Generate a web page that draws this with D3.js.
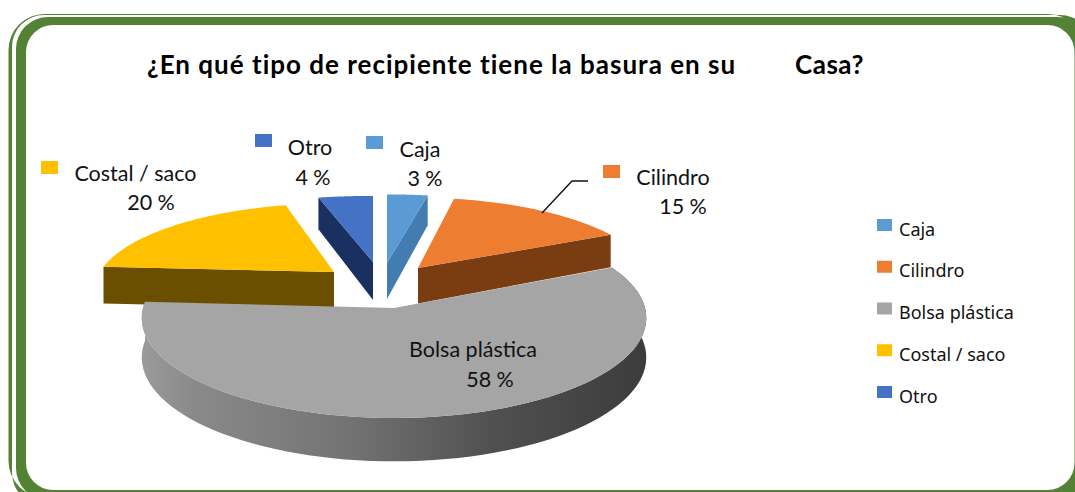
<!DOCTYPE html>
<html><head><meta charset="utf-8">
<script src="https://cdn.jsdelivr.net/npm/d3@7"></script>
<style>html,body{margin:0;padding:0;background:#fff;overflow:hidden}svg{display:block}text{font-family:Lato,"Open Sans",sans-serif;fill:#111}</style>
</head><body><svg id="c" width="1075" height="492"></svg>
<script>
const categories = ["Caja","Cilindro","Bolsa plástica","Costal / saco","Otro"];
const values = [3,15,58,20,4];
const colors = ["#5b9bd5","#ed7d31","#a5a5a5","#ffc000","#4472c4"];
const sideColors = ["#437cb0","#7a3d12",null,"#6b4f00","#1a3060"];
const titleParts = ["¿En qué tipo de recipiente tiene la basura en su","Casa?"];

const svg = d3.select("#c");
const green = "#548235";

function rr(x0,y0,x1,y1,r){
  const p = d3.path();
  p.moveTo(x0+r,y0); p.lineTo(x1-r,y0); p.arcTo(x1,y0,x1,y0+r,r);
  p.lineTo(x1,y1-r); p.arcTo(x1,y1,x1-r,y1,r);
  p.lineTo(x0+r,y1); p.arcTo(x0,y1,x0,y1-r,r);
  p.lineTo(x0,y0+r); p.arcTo(x0,y0,x0+r,y0,r); p.closePath();
  return p.toString();
}
// frame
svg.append("path").attr("fill-rule","evenodd").attr("fill",green)
  .attr("d", rr(8.5,14,1084,497,36)+rr(12,15,1092,505,32));
svg.append("path").attr("fill-rule","evenodd").attr("fill",green)
  .attr("d", rr(16,17,1090,500,32)+rr(26,25,1074.5,490,27));

// pie geometry
const layout = [
  {ax:387,ay:263,R:262,Ry:83,k:.21,d:36},
  {ax:418,ay:268,R:232,Ry:85,k:.21,d:35.5},
  {ax:394,ay:308,R:251,Ry:99,k:.1,d:39},
  {ax:334,ay:272,R:234,Ry:83,k:.21,d:37},
  {ax:373,ay:262,R:264,Ry:80,k:.21,d:38}
];
const pieGen = d3.pie().sort(null).value(d=>d);
const arcs = pieGen(values);

function proj(l,th,r=1,down=false){
  const u=r*Math.sin(th), v=r*Math.cos(th), w=1+l.k*v;
  return [l.ax+l.R*u/w, l.ay-l.Ry*v/w+(down?l.d/w:0)];
}
const lineGen = d3.line();
const grads = svg.append("defs").append("linearGradient").attr("id","gw")
  .attr("gradientUnits","userSpaceOnUse").attr("x1",143).attr("x2",645).attr("y1",0).attr("y2",0);
[[0,"#9a9a9a"],[.1,"#8a8a8a"],[.4,"#747474"],[.7,"#505050"],[1,"#3c3c3c"]].forEach(s=>
  grads.append("stop").attr("offset",s[0]).attr("stop-color",s[1]));

const order = [4,0,1,3,2];
order.forEach(i=>{
  const a=arcs[i], l=layout[i];
  const n=80, ths=d3.range(n+1).map(t=>a.startAngle+(a.endAngle-a.startAngle)*t/n);
  const apex=proj(l,0,0), apexD=proj(l,0,0,true);
  const g=svg.append("g");
  if(i===2){
    const top=ths.map(t=>proj(l,t)), bot=ths.map(t=>proj(l,t,1,true)).reverse();
    g.append("path").attr("d",lineGen(top.concat(bot))+"Z").attr("fill","url(#gw)");
  } else {
    // visible straight wall of the exploded wedge
    const edgeTh = (i===0||i===1) ? a.endAngle : a.startAngle;
    g.append("path").attr("d",lineGen([apex,proj(l,edgeTh),proj(l,edgeTh,1,true),apexD])+"Z")
      .attr("fill",sideColors[i]);
  }
  g.append("path").attr("d",lineGen([apex].concat(ths.map(t=>proj(l,t))))+"Z").attr("fill",colors[i]);
});

// title
svg.append("text").attr("x",147).attr("y",74).attr("font-size",26).attr("font-weight",700).attr("letter-spacing",1).style("fill","#000").text(titleParts[0]);
svg.append("text").attr("x",795).attr("y",74).attr("font-size",26).attr("font-weight",700).attr("letter-spacing",0.5).style("fill","#000").text(titleParts[1]);

// data labels
const labelPos = [
  {kx:366,ky:136,tx:420,ty:157,px:425,py:186},
  {kx:603,ky:165,tx:673,ty:185,px:683,py:214},
  {kx:null,ky:null,tx:473,ty:357,px:490,py:387},
  {kx:41,ky:161,tx:135.5,ty:181,px:151,py:210},
  {kx:255,ky:134,tx:310,ty:155,px:313,py:185}
];
categories.forEach((c,i)=>{
  const p=labelPos[i];
  if(p.kx!==null) svg.append("rect").attr("x",p.kx).attr("y",p.ky).attr("width",17).attr("height",13).attr("fill",colors[i]);
  svg.append("text").attr("x",p.tx).attr("y",p.ty).attr("text-anchor","middle").attr("font-size",21.5).text(c);
  svg.append("text").attr("x",p.px).attr("y",p.py).attr("text-anchor","middle").attr("font-size",21.5).text(values[i]+" %");
});
// leader
svg.append("path").attr("d",lineGen([[542,213],[572,181],[588,181]])).attr("fill","none").attr("stroke","#111").attr("stroke-width",1.4);

// legend
const ly = d3.scalePoint().domain(categories).range([225,392]);
categories.forEach((c,i)=>{
  svg.append("rect").attr("x",877).attr("y",ly(c)-6).attr("width",15).attr("height",12).attr("fill",colors[i]);
  svg.append("text").attr("x",899).attr("y",ly(c)+10.5).attr("font-size",18).style("font-family","'Noto Sans'").text(c);
});
</script></body></html>
